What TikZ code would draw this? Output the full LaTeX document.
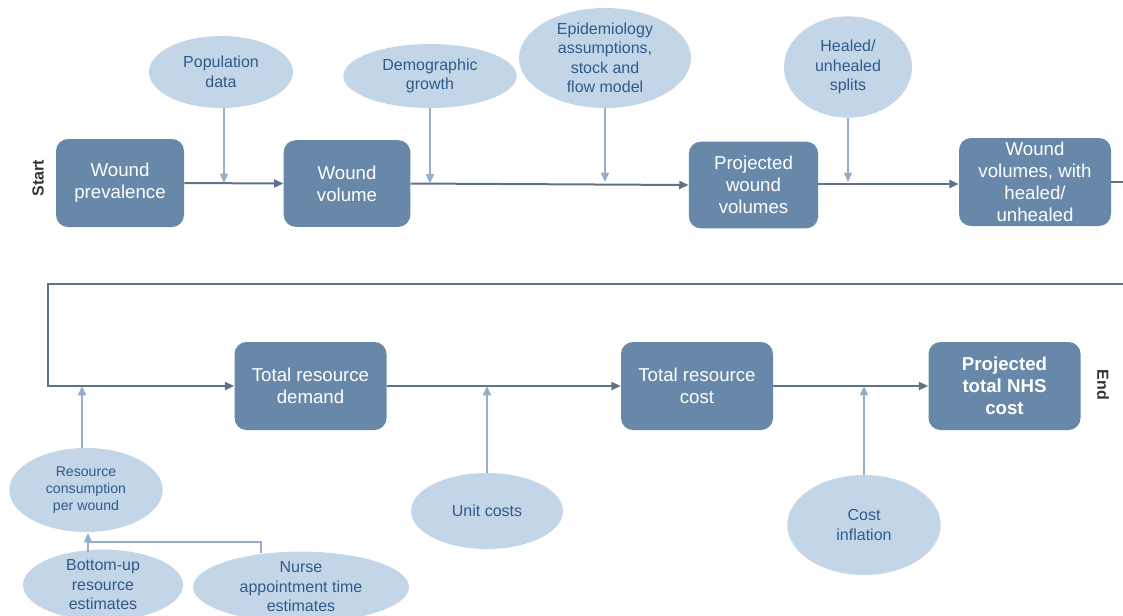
\documentclass[tikz,border=0pt]{standalone}
\usepackage{fontspec}
\setmainfont{Liberation Sans}
\usetikzlibrary{arrows.meta,shapes.geometric}
\definecolor{boxc}{HTML}{6788A9}
\definecolor{ellc}{HTML}{C3D6E8}
\definecolor{etext}{HTML}{2F5A8C}
\definecolor{mainln}{HTML}{5E7387}
\definecolor{lightln}{HTML}{93AECB}
\tikzset{
  stepbox/.style={rectangle, rounded corners=9pt, fill=boxc, text=white, align=center,
    font=\fontsize{14pt}{16.5pt}\selectfont, inner sep=0pt},
  inbox/.style={ellipse, fill=ellc, text=etext, align=center, inner sep=0pt,
    font=\fontsize{12pt}{14.6pt}\selectfont},
  mainarr/.style={draw=mainln, line width=1.5pt, -{Triangle[length=7pt,width=6pt]}},
  mainline/.style={draw=mainln, line width=1.5pt},
  lightarr/.style={draw=lightln, line width=1.3pt, -{Triangle[length=7pt,width=6pt]}},
  lightline/.style={draw=lightln, line width=1.3pt},
  sideLabel/.style={font=\bfseries\fontsize{12pt}{14pt}\selectfont, text=black!80}
}
\begin{document}
\begin{tikzpicture}[x=0.75pt,y=-0.75pt]
\useasboundingbox (0,0) rectangle (1123,615);
% boxes
\node[stepbox, minimum width=96pt, minimum height=66pt] (wp) at (120,183) {Wound\\prevalence};
\node[stepbox, minimum width=95pt, minimum height=65pt] (wv) at (347,183.5) {Wound\\volume};
\node[stepbox, minimum width=97pt, minimum height=65pt] (pwv) at (753.5,185) {Projected\\wound\\volumes};
\node[stepbox, minimum width=114pt, minimum height=66pt] (wvh) at (1035,182) {Wound\\volumes, with\\healed/\\unhealed};
\node[stepbox, minimum width=114pt, minimum height=66pt] (trd) at (310.5,386) {Total resource\\demand};
\node[stepbox, minimum width=114pt, minimum height=66pt] (trc) at (697,386) {Total resource\\cost};
\node[stepbox, minimum width=114pt, minimum height=66pt, font=\bfseries\fontsize{14pt}{16.5pt}\selectfont] (tnhs) at (1004.5,386) {Projected\\total NHS\\cost};
% ellipses
\node[inbox, minimum width=108pt, minimum height=54pt] (pop) at (221,72) {Population\\data};
\node[inbox, minimum width=130pt, minimum height=48pt] (dem) at (430,76) {Demographic\\growth};
\node[inbox, minimum width=129pt, minimum height=75pt] (epi) at (605,58) {Epidemiology\\assumptions,\\stock and\\flow model};
\node[inbox, minimum width=96pt, minimum height=76pt] (hus) at (848,67) {Healed/\\unhealed\\splits};
\node[inbox, minimum width=115pt, minimum height=63pt, font=\fontsize{10.6pt}{12.75pt}\selectfont] (rc) at (86,490) {Resource\\consumption\\per wound};
\node[inbox, minimum width=114pt, minimum height=57pt] (uc) at (487,511) {Unit costs};
\node[inbox, minimum width=115pt, minimum height=75pt] (ci) at (864,525) {Cost\\inflation};
\node[inbox, minimum width=120pt, minimum height=52pt] (bu) at (103,585) {Bottom-up\\resource\\estimates};
\node[inbox, minimum width=162pt, minimum height=52pt] (nu) at (301,587) {Nurse\\appointment time\\estimates};
% side labels
\node[sideLabel, rotate=90] (start) at (38,178) {Start};
\node[sideLabel, rotate=-90] (end) at (1103,385) {End};
% main flow
\draw[mainarr] (wp.east) -- (wv.west);
\draw[mainarr] (wv.east) -- (pwv.west);
\draw[mainarr] ([yshift=0.75pt]pwv.east) -- ([yshift=0.75pt]pwv.east -| wvh.west);
\coordinate (r1) at (1123,182);
\coordinate (r2) at (1123,284);
\coordinate (l1) at (48,284);
\draw[mainline] (wvh.east) -- (r1);
\draw[mainarr] (r2) -- (l1) |- (trd.west);
\draw[mainarr] (trd.east) -- (trc.west);
\draw[mainarr] (trc.east) -- (tnhs.west);
% inputs
\draw[lightarr] ([xshift=2.25pt]pop.south) -- ([xshift=2.25pt]pop.south |- wp.east);
\draw[lightarr] (dem.south) -- (dem.south |- wv.east);
\draw[lightarr] (epi.south) -- (epi.south |- wvh.west);
\draw[lightarr] (hus.south) -- (hus.south |- wvh.west);
\draw[lightarr] ([xshift=-3pt]rc.north) -- ([xshift=-3pt]rc.north |- trd.west);
\draw[lightarr] (uc.north) -- (uc.north |- trd.west);
\draw[lightarr] (ci.north) -- (ci.north |- trd.west);
\coordinate (j) at (88,542);
\coordinate (nt) at (261,553);
\draw[lightarr] (88,552) -- (88,533);
\draw[lightline] (nt) |- (j);
\end{tikzpicture}
\end{document}
